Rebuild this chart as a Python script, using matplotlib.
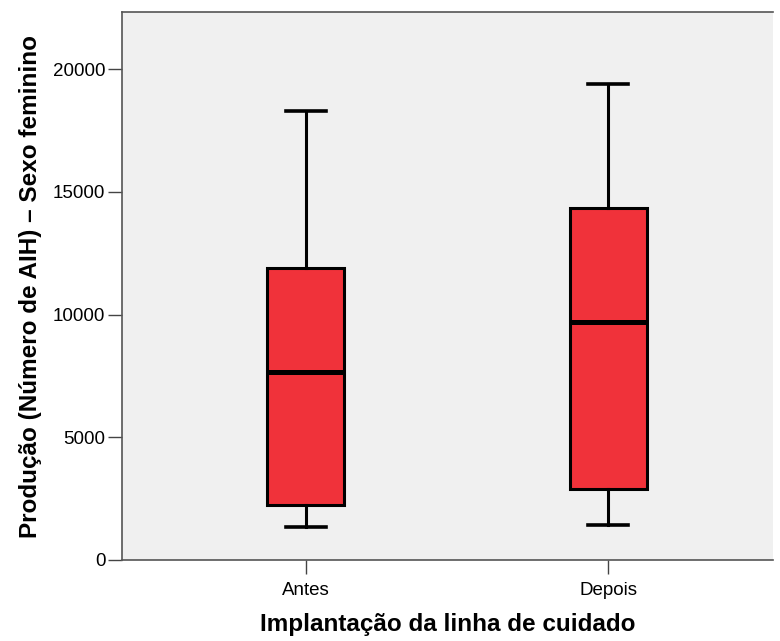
import matplotlib.pyplot as plt

# data (five-number summaries)
groups = ['Antes', 'Depois']
whislo = [1350, 1430]
q1 = [2240, 2890]
med = [7660, 9700]
q3 = [11900, 14340]
whishi = [18300, 19400]

plt.rcParams['font.family'] = ['Liberation Sans', 'DejaVu Sans']

stats = []
for i, g in enumerate(groups):
    stats.append(dict(label=g, whislo=whislo[i], q1=q1[i], med=med[i],
                      q3=q3[i], whishi=whishi[i], fliers=[]))

fig = plt.figure(figsize=(7.8, 6.41), dpi=100)
ax = fig.add_axes([0.1564, 0.1264, 0.8346, 0.8546])
ax.set_facecolor('#f0f0f0')

ax.bxp(stats, positions=[1, 2], widths=0.255, patch_artist=True,
       boxprops=dict(facecolor='#f0323a', edgecolor='black', linewidth=2.2),
       whiskerprops=dict(color='black', linewidth=2.2),
       capprops=dict(color='black', linewidth=2.6),
       medianprops=dict(color='black', linewidth=3.6),
       capwidths=0.13, showfliers=False)

ax.set_xlim(0.391, 2.546)
ax.set_ylim(0, 22330)
ax.set_yticks([0, 5000, 10000, 15000, 20000])
ax.set_xticks([1, 2])
ax.set_xticklabels(groups, fontsize=13.5)
ax.tick_params(axis='y', labelsize=13.5, length=10, width=1, color='#444444', pad=2)
ax.tick_params(axis='x', length=10, width=1, color='#444444', pad=6)

for side in ['left', 'bottom', 'top']:
    ax.spines[side].set_color('#555555')
    ax.spines[side].set_linewidth(1.2)
ax.spines['right'].set_visible(False)

ax.set_xlabel('Implantação da linha de cuidado', fontsize=17.5, fontweight='bold',
              labelpad=10)
ax.set_ylabel('Produção (Número de AIH) \u2013 Sexo feminino', fontsize=17.5,
              fontweight='bold', labelpad=8)

fig.savefig('out.png', dpi=100)
